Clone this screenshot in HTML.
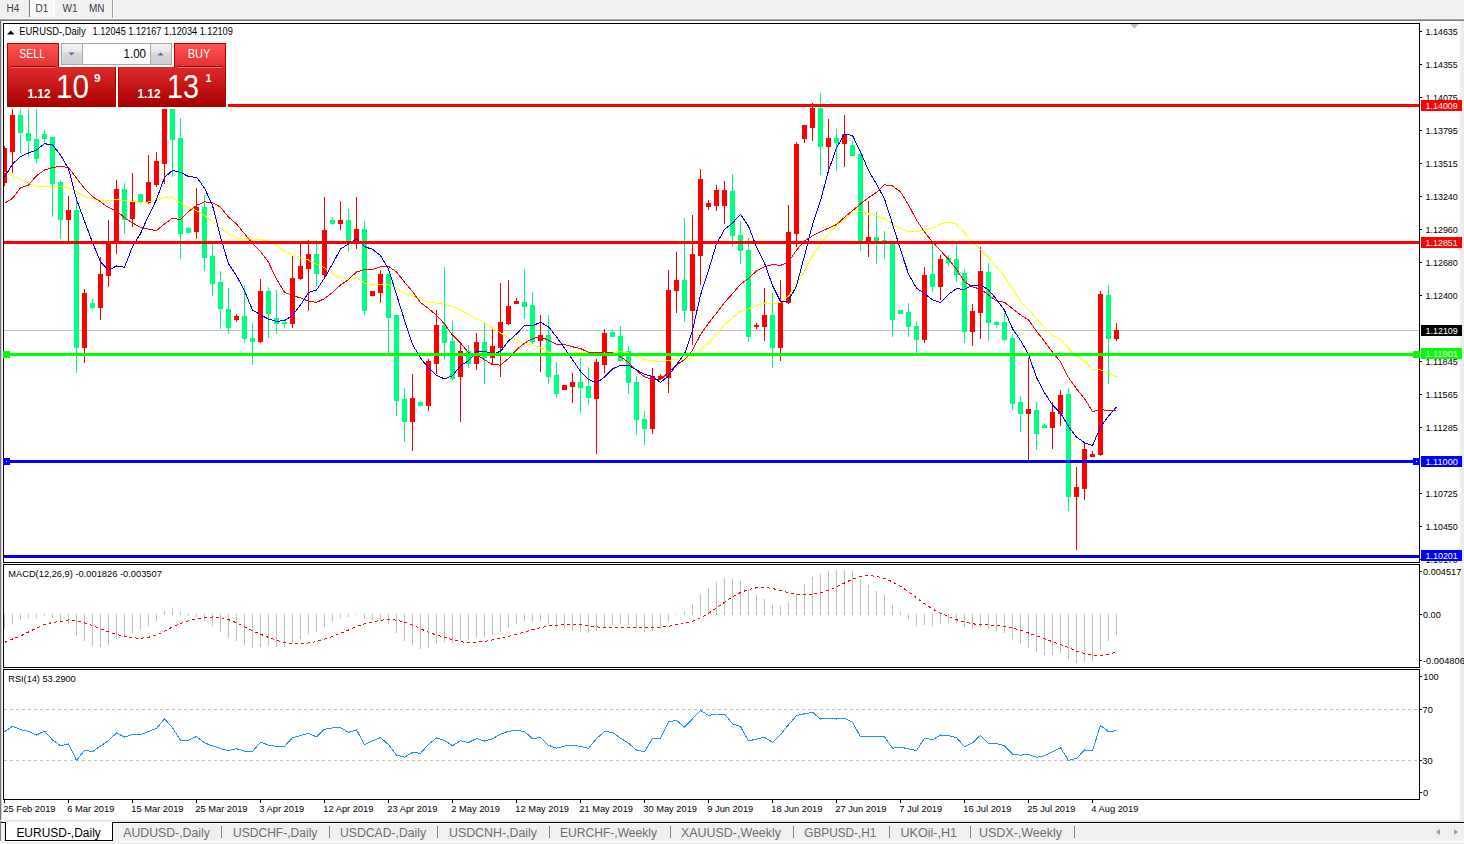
<!DOCTYPE html><html><head><meta charset="utf-8"><style>html,body{margin:0;padding:0;background:#fff;overflow:hidden}svg{display:block}text{font-family:"Liberation Sans",sans-serif}</style></head><body>
<svg width="1464" height="844" viewBox="0 0 1464 844">
<rect x="0" y="0" width="1464" height="18" fill="#f0f0f0"/>
<rect x="0" y="18" width="1464" height="1" fill="#fafafa"/>
<rect x="0" y="19" width="1464" height="1" fill="#a0a0a0"/>
<rect x="0" y="20" width="1464" height="1" fill="#808080"/>
<defs><pattern id="dth" width="2" height="2" patternUnits="userSpaceOnUse"><rect width="2" height="2" fill="#f0f0f0"/><rect width="1" height="1" fill="#fff"/><rect x="1" y="1" width="1" height="1" fill="#fff"/></pattern></defs><rect x="30" y="0" width="24" height="17" fill="url(#dth)"/>
<rect x="29" y="0" width="1" height="17" fill="#808080"/>
<rect x="54" y="0" width="1" height="17" fill="#ffffff"/>
<rect x="112" y="0" width="1" height="18" fill="#a0a0a0"/><rect x="113" y="0" width="1" height="18" fill="#ffffff"/>
<text x="6.5" y="11.5" font-size="10" fill="#404040">H4</text>
<text x="35.5" y="11.5" font-size="10" fill="#404040">D1</text>
<text x="62.5" y="11.5" font-size="10" fill="#404040">W1</text>
<text x="89" y="11.5" font-size="10" fill="#404040">MN</text>
<rect x="0" y="21" width="1" height="799" fill="#747474"/><rect x="1" y="21" width="1" height="799" fill="#d4d4d4"/>
<rect x="1459" y="21" width="5" height="799" fill="#f4f4f4"/><rect x="1461" y="21" width="3" height="799" fill="#ececec"/>
<g shape-rendering="crispEdges" fill="none" stroke="#000" stroke-width="1">
<path d="M3.5 562.5V23.5H1419.5V562.5Z"/>
<path d="M3.5 667.5V564.5H1419.5V667.5Z"/>
<path d="M3.5 799.5V669.5H1419.5V799.5Z"/>
</g>
<path d="M1130 24H1139L1134.5 28.5Z" fill="#c0c0c0"/>
<rect x="4" y="330" width="1415" height="1" fill="#c0c0c0" shape-rendering="crispEdges"/>
<defs><clipPath id="cm"><rect x="4" y="24" width="1415" height="538"/></clipPath><clipPath id="cp"><rect x="4" y="565" width="1415" height="102"/></clipPath><clipPath id="cr"><rect x="4" y="670" width="1415" height="129"/></clipPath></defs>
<g shape-rendering="crispEdges" clip-path="url(#cm)">
<rect x="4" y="146" width="1" height="40" fill="#ff0000"/><rect x="2" y="148" width="5" height="35" fill="#ff0000"/>
<rect x="12" y="104" width="1" height="69" fill="#ff0000"/><rect x="10" y="115" width="5" height="37" fill="#ff0000"/>
<rect x="20" y="104" width="1" height="49" fill="#00ff7f"/><rect x="18" y="115" width="5" height="18" fill="#00ff7f"/>
<rect x="28" y="104" width="1" height="53" fill="#00ff7f"/><rect x="26" y="133" width="5" height="8" fill="#00ff7f"/>
<rect x="36" y="104" width="1" height="60" fill="#00ff7f"/><rect x="34" y="139" width="5" height="20" fill="#00ff7f"/>
<rect x="44" y="130" width="1" height="12" fill="#00ff7f"/><rect x="42" y="134" width="5" height="5" fill="#00ff7f"/>
<rect x="52" y="137" width="1" height="80" fill="#00ff7f"/><rect x="50" y="137" width="5" height="47" fill="#00ff7f"/>
<rect x="60" y="180" width="1" height="59" fill="#00ff7f"/><rect x="58" y="182" width="5" height="38" fill="#00ff7f"/>
<rect x="68" y="196" width="1" height="47" fill="#ff0000"/><rect x="66" y="210" width="5" height="10" fill="#ff0000"/>
<rect x="76" y="201" width="1" height="172" fill="#00ff7f"/><rect x="74" y="210" width="5" height="138" fill="#00ff7f"/>
<rect x="84" y="289" width="1" height="74" fill="#ff0000"/><rect x="82" y="293" width="5" height="55" fill="#ff0000"/>
<rect x="92" y="299" width="1" height="10" fill="#00ff7f"/><rect x="90" y="303" width="5" height="5" fill="#00ff7f"/>
<rect x="100" y="257" width="1" height="63" fill="#ff0000"/><rect x="98" y="274" width="5" height="34" fill="#ff0000"/>
<rect x="108" y="220" width="1" height="67" fill="#ff0000"/><rect x="106" y="242" width="5" height="34" fill="#ff0000"/>
<rect x="116" y="180" width="1" height="74" fill="#ff0000"/><rect x="114" y="189" width="5" height="54" fill="#ff0000"/>
<rect x="124" y="183" width="1" height="51" fill="#00ff7f"/><rect x="122" y="189" width="5" height="31" fill="#00ff7f"/>
<rect x="132" y="173" width="1" height="54" fill="#ff0000"/><rect x="130" y="202" width="5" height="17" fill="#ff0000"/>
<rect x="140" y="194" width="1" height="10" fill="#00ff7f"/><rect x="138" y="194" width="5" height="9" fill="#00ff7f"/>
<rect x="148" y="155" width="1" height="49" fill="#ff0000"/><rect x="146" y="182" width="5" height="21" fill="#ff0000"/>
<rect x="156" y="152" width="1" height="35" fill="#ff0000"/><rect x="154" y="161" width="5" height="24" fill="#ff0000"/>
<rect x="164" y="50" width="1" height="134" fill="#ff0000"/><rect x="162" y="87" width="5" height="77" fill="#ff0000"/>
<rect x="172" y="47" width="1" height="130" fill="#00ff7f"/><rect x="170" y="87" width="5" height="53" fill="#00ff7f"/>
<rect x="180" y="118" width="1" height="141" fill="#00ff7f"/><rect x="178" y="138" width="5" height="96" fill="#00ff7f"/>
<rect x="188" y="227" width="1" height="6" fill="#00ff7f"/><rect x="186" y="228" width="5" height="5" fill="#00ff7f"/>
<rect x="196" y="188" width="1" height="51" fill="#ff0000"/><rect x="194" y="207" width="5" height="25" fill="#ff0000"/>
<rect x="204" y="195" width="1" height="76" fill="#00ff7f"/><rect x="202" y="207" width="5" height="51" fill="#00ff7f"/>
<rect x="212" y="244" width="1" height="52" fill="#00ff7f"/><rect x="210" y="256" width="5" height="28" fill="#00ff7f"/>
<rect x="220" y="271" width="1" height="58" fill="#00ff7f"/><rect x="218" y="282" width="5" height="27" fill="#00ff7f"/>
<rect x="228" y="288" width="1" height="46" fill="#00ff7f"/><rect x="226" y="309" width="5" height="19" fill="#00ff7f"/>
<rect x="236" y="314" width="1" height="8" fill="#ff0000"/><rect x="234" y="316" width="5" height="4" fill="#ff0000"/>
<rect x="244" y="285" width="1" height="58" fill="#00ff7f"/><rect x="242" y="316" width="5" height="23" fill="#00ff7f"/>
<rect x="252" y="323" width="1" height="42" fill="#00ff7f"/><rect x="250" y="338" width="5" height="4" fill="#00ff7f"/>
<rect x="260" y="279" width="1" height="64" fill="#ff0000"/><rect x="258" y="291" width="5" height="51" fill="#ff0000"/>
<rect x="268" y="287" width="1" height="51" fill="#00ff7f"/><rect x="266" y="291" width="5" height="23" fill="#00ff7f"/>
<rect x="276" y="290" width="1" height="44" fill="#00ff7f"/><rect x="274" y="318" width="5" height="6" fill="#00ff7f"/>
<rect x="284" y="321" width="1" height="7" fill="#00ff7f"/><rect x="282" y="322" width="5" height="2" fill="#00ff7f"/>
<rect x="292" y="256" width="1" height="72" fill="#ff0000"/><rect x="290" y="278" width="5" height="46" fill="#ff0000"/>
<rect x="300" y="243" width="1" height="37" fill="#ff0000"/><rect x="298" y="266" width="5" height="13" fill="#ff0000"/>
<rect x="308" y="240" width="1" height="71" fill="#ff0000"/><rect x="306" y="254" width="5" height="15" fill="#ff0000"/>
<rect x="316" y="240" width="1" height="46" fill="#00ff7f"/><rect x="314" y="254" width="5" height="20" fill="#00ff7f"/>
<rect x="324" y="197" width="1" height="81" fill="#ff0000"/><rect x="322" y="230" width="5" height="45" fill="#ff0000"/>
<rect x="332" y="217" width="1" height="8" fill="#00ff7f"/><rect x="330" y="220" width="5" height="4" fill="#00ff7f"/>
<rect x="340" y="201" width="1" height="29" fill="#ff0000"/><rect x="338" y="220" width="5" height="4" fill="#ff0000"/>
<rect x="348" y="209" width="1" height="43" fill="#00ff7f"/><rect x="346" y="220" width="5" height="23" fill="#00ff7f"/>
<rect x="356" y="197" width="1" height="52" fill="#ff0000"/><rect x="354" y="229" width="5" height="13" fill="#ff0000"/>
<rect x="364" y="221" width="1" height="94" fill="#00ff7f"/><rect x="362" y="229" width="5" height="82" fill="#00ff7f"/>
<rect x="372" y="291" width="1" height="5" fill="#ff0000"/><rect x="370" y="291" width="5" height="5" fill="#ff0000"/>
<rect x="380" y="270" width="1" height="33" fill="#ff0000"/><rect x="378" y="274" width="5" height="19" fill="#ff0000"/>
<rect x="388" y="274" width="1" height="80" fill="#00ff7f"/><rect x="386" y="274" width="5" height="44" fill="#00ff7f"/>
<rect x="396" y="315" width="1" height="101" fill="#00ff7f"/><rect x="394" y="315" width="5" height="86" fill="#00ff7f"/>
<rect x="404" y="388" width="1" height="54" fill="#00ff7f"/><rect x="402" y="399" width="5" height="23" fill="#00ff7f"/>
<rect x="412" y="374" width="1" height="77" fill="#ff0000"/><rect x="410" y="398" width="5" height="24" fill="#ff0000"/>
<rect x="420" y="401" width="1" height="5" fill="#00ff7f"/><rect x="418" y="402" width="5" height="4" fill="#00ff7f"/>
<rect x="428" y="359" width="1" height="52" fill="#ff0000"/><rect x="426" y="361" width="5" height="45" fill="#ff0000"/>
<rect x="436" y="310" width="1" height="64" fill="#ff0000"/><rect x="434" y="325" width="5" height="39" fill="#ff0000"/>
<rect x="444" y="267" width="1" height="93" fill="#00ff7f"/><rect x="442" y="325" width="5" height="18" fill="#00ff7f"/>
<rect x="452" y="321" width="1" height="59" fill="#00ff7f"/><rect x="450" y="341" width="5" height="38" fill="#00ff7f"/>
<rect x="460" y="343" width="1" height="79" fill="#ff0000"/><rect x="458" y="351" width="5" height="26" fill="#ff0000"/>
<rect x="468" y="345" width="1" height="23" fill="#00ff7f"/><rect x="466" y="351" width="5" height="13" fill="#00ff7f"/>
<rect x="476" y="333" width="1" height="37" fill="#ff0000"/><rect x="474" y="342" width="5" height="22" fill="#ff0000"/>
<rect x="484" y="323" width="1" height="61" fill="#00ff7f"/><rect x="482" y="342" width="5" height="16" fill="#00ff7f"/>
<rect x="492" y="328" width="1" height="36" fill="#ff0000"/><rect x="490" y="346" width="5" height="12" fill="#ff0000"/>
<rect x="500" y="283" width="1" height="94" fill="#ff0000"/><rect x="498" y="322" width="5" height="26" fill="#ff0000"/>
<rect x="508" y="280" width="1" height="45" fill="#ff0000"/><rect x="506" y="306" width="5" height="18" fill="#ff0000"/>
<rect x="516" y="298" width="1" height="6" fill="#ff0000"/><rect x="514" y="301" width="5" height="3" fill="#ff0000"/>
<rect x="524" y="269" width="1" height="50" fill="#00ff7f"/><rect x="522" y="302" width="5" height="5" fill="#00ff7f"/>
<rect x="532" y="292" width="1" height="52" fill="#00ff7f"/><rect x="530" y="305" width="5" height="37" fill="#00ff7f"/>
<rect x="540" y="315" width="1" height="57" fill="#ff0000"/><rect x="538" y="335" width="5" height="6" fill="#ff0000"/>
<rect x="548" y="315" width="1" height="69" fill="#00ff7f"/><rect x="546" y="335" width="5" height="42" fill="#00ff7f"/>
<rect x="556" y="362" width="1" height="36" fill="#00ff7f"/><rect x="554" y="375" width="5" height="19" fill="#00ff7f"/>
<rect x="564" y="385" width="1" height="5" fill="#ff0000"/><rect x="562" y="385" width="5" height="5" fill="#ff0000"/>
<rect x="572" y="373" width="1" height="30" fill="#ff0000"/><rect x="570" y="382" width="5" height="5" fill="#ff0000"/>
<rect x="580" y="358" width="1" height="55" fill="#00ff7f"/><rect x="578" y="382" width="5" height="6" fill="#00ff7f"/>
<rect x="588" y="367" width="1" height="38" fill="#00ff7f"/><rect x="586" y="386" width="5" height="12" fill="#00ff7f"/>
<rect x="596" y="359" width="1" height="95" fill="#ff0000"/><rect x="594" y="362" width="5" height="37" fill="#ff0000"/>
<rect x="604" y="329" width="1" height="44" fill="#ff0000"/><rect x="602" y="333" width="5" height="32" fill="#ff0000"/>
<rect x="612" y="330" width="1" height="7" fill="#00ff7f"/><rect x="610" y="332" width="5" height="5" fill="#00ff7f"/>
<rect x="620" y="326" width="1" height="35" fill="#00ff7f"/><rect x="618" y="336" width="5" height="25" fill="#00ff7f"/>
<rect x="628" y="346" width="1" height="48" fill="#00ff7f"/><rect x="626" y="351" width="5" height="32" fill="#00ff7f"/>
<rect x="636" y="376" width="1" height="59" fill="#00ff7f"/><rect x="634" y="382" width="5" height="38" fill="#00ff7f"/>
<rect x="644" y="411" width="1" height="34" fill="#00ff7f"/><rect x="642" y="419" width="5" height="10" fill="#00ff7f"/>
<rect x="652" y="368" width="1" height="66" fill="#ff0000"/><rect x="650" y="376" width="5" height="53" fill="#ff0000"/>
<rect x="660" y="374" width="1" height="6" fill="#ff0000"/><rect x="658" y="376" width="5" height="3" fill="#ff0000"/>
<rect x="668" y="270" width="1" height="123" fill="#ff0000"/><rect x="666" y="290" width="5" height="88" fill="#ff0000"/>
<rect x="676" y="252" width="1" height="61" fill="#ff0000"/><rect x="674" y="280" width="5" height="11" fill="#ff0000"/>
<rect x="684" y="218" width="1" height="104" fill="#00ff7f"/><rect x="682" y="280" width="5" height="31" fill="#00ff7f"/>
<rect x="692" y="215" width="1" height="130" fill="#ff0000"/><rect x="690" y="254" width="5" height="57" fill="#ff0000"/>
<rect x="700" y="169" width="1" height="116" fill="#ff0000"/><rect x="698" y="179" width="5" height="77" fill="#ff0000"/>
<rect x="708" y="200" width="1" height="10" fill="#ff0000"/><rect x="706" y="203" width="5" height="4" fill="#ff0000"/>
<rect x="716" y="185" width="1" height="26" fill="#ff0000"/><rect x="714" y="190" width="5" height="16" fill="#ff0000"/>
<rect x="724" y="181" width="1" height="43" fill="#ff0000"/><rect x="722" y="190" width="5" height="16" fill="#ff0000"/>
<rect x="732" y="174" width="1" height="73" fill="#00ff7f"/><rect x="730" y="191" width="5" height="45" fill="#00ff7f"/>
<rect x="740" y="221" width="1" height="43" fill="#00ff7f"/><rect x="738" y="235" width="5" height="16" fill="#00ff7f"/>
<rect x="748" y="238" width="1" height="104" fill="#00ff7f"/><rect x="746" y="250" width="5" height="87" fill="#00ff7f"/>
<rect x="756" y="323" width="1" height="6" fill="#ff0000"/><rect x="754" y="325" width="5" height="2" fill="#ff0000"/>
<rect x="764" y="288" width="1" height="53" fill="#ff0000"/><rect x="762" y="315" width="5" height="12" fill="#ff0000"/>
<rect x="772" y="293" width="1" height="75" fill="#00ff7f"/><rect x="770" y="315" width="5" height="33" fill="#00ff7f"/>
<rect x="780" y="280" width="1" height="81" fill="#ff0000"/><rect x="778" y="302" width="5" height="46" fill="#ff0000"/>
<rect x="788" y="205" width="1" height="99" fill="#ff0000"/><rect x="786" y="232" width="5" height="71" fill="#ff0000"/>
<rect x="796" y="142" width="1" height="105" fill="#ff0000"/><rect x="794" y="144" width="5" height="90" fill="#ff0000"/>
<rect x="804" y="125" width="1" height="18" fill="#ff0000"/><rect x="802" y="125" width="5" height="14" fill="#ff0000"/>
<rect x="812" y="103" width="1" height="38" fill="#ff0000"/><rect x="810" y="108" width="5" height="20" fill="#ff0000"/>
<rect x="820" y="93" width="1" height="82" fill="#00ff7f"/><rect x="818" y="108" width="5" height="39" fill="#00ff7f"/>
<rect x="828" y="119" width="1" height="50" fill="#ff0000"/><rect x="826" y="138" width="5" height="9" fill="#ff0000"/>
<rect x="836" y="129" width="1" height="42" fill="#00ff7f"/><rect x="834" y="138" width="5" height="5" fill="#00ff7f"/>
<rect x="844" y="115" width="1" height="52" fill="#ff0000"/><rect x="842" y="134" width="5" height="10" fill="#ff0000"/>
<rect x="852" y="141" width="1" height="15" fill="#00ff7f"/><rect x="850" y="145" width="5" height="11" fill="#00ff7f"/>
<rect x="860" y="150" width="1" height="101" fill="#00ff7f"/><rect x="858" y="154" width="5" height="88" fill="#00ff7f"/>
<rect x="868" y="201" width="1" height="56" fill="#ff0000"/><rect x="866" y="237" width="5" height="6" fill="#ff0000"/>
<rect x="876" y="212" width="1" height="52" fill="#00ff7f"/><rect x="874" y="237" width="5" height="6" fill="#00ff7f"/>
<rect x="884" y="231" width="1" height="28" fill="#00ff7f"/><rect x="882" y="240" width="5" height="2" fill="#00ff7f"/>
<rect x="892" y="242" width="1" height="95" fill="#00ff7f"/><rect x="890" y="242" width="5" height="78" fill="#00ff7f"/>
<rect x="900" y="310" width="1" height="4" fill="#00ff7f"/><rect x="898" y="310" width="5" height="4" fill="#00ff7f"/>
<rect x="908" y="303" width="1" height="34" fill="#00ff7f"/><rect x="906" y="312" width="5" height="15" fill="#00ff7f"/>
<rect x="916" y="321" width="1" height="32" fill="#00ff7f"/><rect x="914" y="326" width="5" height="14" fill="#00ff7f"/>
<rect x="924" y="267" width="1" height="76" fill="#ff0000"/><rect x="922" y="275" width="5" height="65" fill="#ff0000"/>
<rect x="932" y="244" width="1" height="48" fill="#00ff7f"/><rect x="930" y="274" width="5" height="13" fill="#00ff7f"/>
<rect x="940" y="255" width="1" height="45" fill="#ff0000"/><rect x="938" y="259" width="5" height="28" fill="#ff0000"/>
<rect x="948" y="255" width="1" height="11" fill="#00ff7f"/><rect x="946" y="258" width="5" height="5" fill="#00ff7f"/>
<rect x="956" y="244" width="1" height="38" fill="#00ff7f"/><rect x="954" y="259" width="5" height="16" fill="#00ff7f"/>
<rect x="964" y="269" width="1" height="74" fill="#00ff7f"/><rect x="962" y="273" width="5" height="59" fill="#00ff7f"/>
<rect x="972" y="304" width="1" height="42" fill="#ff0000"/><rect x="970" y="311" width="5" height="21" fill="#ff0000"/>
<rect x="980" y="247" width="1" height="92" fill="#ff0000"/><rect x="978" y="271" width="5" height="42" fill="#ff0000"/>
<rect x="988" y="263" width="1" height="78" fill="#00ff7f"/><rect x="986" y="272" width="5" height="51" fill="#00ff7f"/>
<rect x="996" y="321" width="1" height="7" fill="#00ff7f"/><rect x="994" y="322" width="5" height="3" fill="#00ff7f"/>
<rect x="1004" y="313" width="1" height="28" fill="#00ff7f"/><rect x="1002" y="322" width="5" height="18" fill="#00ff7f"/>
<rect x="1012" y="334" width="1" height="76" fill="#00ff7f"/><rect x="1010" y="338" width="5" height="66" fill="#00ff7f"/>
<rect x="1020" y="396" width="1" height="36" fill="#00ff7f"/><rect x="1018" y="402" width="5" height="12" fill="#00ff7f"/>
<rect x="1028" y="358" width="1" height="103" fill="#ff0000"/><rect x="1026" y="409" width="5" height="5" fill="#ff0000"/>
<rect x="1036" y="402" width="1" height="48" fill="#00ff7f"/><rect x="1034" y="410" width="5" height="24" fill="#00ff7f"/>
<rect x="1044" y="423" width="1" height="5" fill="#00ff7f"/><rect x="1042" y="425" width="5" height="3" fill="#00ff7f"/>
<rect x="1052" y="402" width="1" height="47" fill="#ff0000"/><rect x="1050" y="412" width="5" height="16" fill="#ff0000"/>
<rect x="1060" y="390" width="1" height="36" fill="#ff0000"/><rect x="1058" y="395" width="5" height="19" fill="#ff0000"/>
<rect x="1068" y="388" width="1" height="123" fill="#00ff7f"/><rect x="1066" y="394" width="5" height="103" fill="#00ff7f"/>
<rect x="1076" y="467" width="1" height="83" fill="#ff0000"/><rect x="1074" y="487" width="5" height="10" fill="#ff0000"/>
<rect x="1084" y="443" width="1" height="57" fill="#ff0000"/><rect x="1082" y="449" width="5" height="40" fill="#ff0000"/>
<rect x="1092" y="451" width="1" height="6" fill="#ff0000"/><rect x="1090" y="454" width="5" height="3" fill="#ff0000"/>
<rect x="1100" y="291" width="1" height="165" fill="#ff0000"/><rect x="1098" y="294" width="5" height="161" fill="#ff0000"/>
<rect x="1108" y="285" width="1" height="99" fill="#00ff7f"/><rect x="1106" y="295" width="5" height="44" fill="#00ff7f"/>
<rect x="1116" y="323" width="1" height="18" fill="#ff0000"/><rect x="1114" y="330" width="5" height="9" fill="#ff0000"/>
</g>
<g clip-path="url(#cm)">
<polyline points="4.5,172.5 12.5,175.8 20.5,179.7 28.5,183.3 36.5,186.3 44.5,186.3 52.5,186.3 60.5,186.7 68.5,187.5 76.5,191.7 84.5,196.3 92.5,198.7 100.5,200.8 108.5,200.8 116.5,199.7 124.5,200.5 132.5,201.7 140.5,202.2 148.5,202.0 156.5,200.0 164.5,197.5 172.5,197.1 180.5,202.7 188.5,207.5 196.5,210.7 204.5,215.4 212.5,222.3 220.5,228.2 228.5,233.4 236.5,238.4 244.5,238.0 252.5,240.3 260.5,239.5 268.5,241.4 276.5,245.2 284.5,251.6 292.5,254.4 300.5,257.5 308.5,260.0 316.5,264.3 324.5,267.6 332.5,274.0 340.5,277.9 348.5,278.3 356.5,278.2 364.5,283.1 372.5,284.7 380.5,284.3 388.5,284.7 396.5,288.2 404.5,293.2 412.5,296.0 420.5,299.1 428.5,302.4 436.5,303.0 444.5,303.9 452.5,306.5 460.5,310.0 468.5,314.6 476.5,318.8 484.5,322.8 492.5,328.3 500.5,333.0 508.5,337.1 516.5,340.0 524.5,343.6 532.5,345.1 540.5,347.2 548.5,352.0 556.5,355.7 564.5,355.0 572.5,353.1 580.5,352.6 588.5,352.2 596.5,352.2 604.5,352.6 612.5,352.3 620.5,351.5 628.5,353.0 636.5,355.6 644.5,359.7 652.5,360.6 660.5,362.0 668.5,360.5 676.5,359.3 684.5,359.7 692.5,357.2 700.5,349.5 708.5,343.2 716.5,334.4 724.5,324.7 732.5,317.6 740.5,311.3 748.5,308.9 756.5,305.4 764.5,303.2 772.5,303.9 780.5,302.2 788.5,296.1 796.5,284.8 804.5,270.8 812.5,255.6 820.5,244.6 828.5,233.3 836.5,226.2 844.5,219.3 852.5,211.9 860.5,211.3 868.5,214.0 876.5,215.9 884.5,218.3 892.5,224.5 900.5,228.2 908.5,231.8 916.5,232.0 924.5,229.6 932.5,228.2 940.5,224.0 948.5,222.1 956.5,224.1 964.5,233.0 972.5,241.9 980.5,249.6 988.5,258.0 996.5,266.9 1004.5,276.2 1012.5,289.0 1020.5,301.3 1028.5,309.3 1036.5,318.7 1044.5,327.5 1052.5,335.6 1060.5,339.2 1068.5,348.0 1076.5,355.6 1084.5,360.9 1092.5,369.4 1100.5,369.8 1108.5,373.5 1116.5,376.8" fill="none" stroke="#ffff00" stroke-width="1" shape-rendering="crispEdges" />
<polyline points="4.5,203.3 12.5,198.3 20.5,188.0 28.5,185.0 36.5,175.8 44.5,170.0 52.5,167.5 60.5,166.3 68.5,167.5 76.5,178.3 84.5,188.3 92.5,196.7 100.5,201.7 108.5,207.6 116.5,210.5 124.5,217.9 132.5,222.9 140.5,227.4 148.5,229.1 156.5,230.7 164.5,223.9 172.5,218.1 180.5,219.8 188.5,211.6 196.5,205.4 204.5,201.9 212.5,202.5 220.5,207.2 228.5,217.1 236.5,224.0 244.5,233.7 252.5,243.6 260.5,251.4 268.5,262.3 276.5,279.1 284.5,292.3 292.5,295.5 300.5,297.9 308.5,301.3 316.5,302.4 324.5,298.6 332.5,292.6 340.5,284.9 348.5,279.6 356.5,271.9 364.5,269.6 372.5,269.6 380.5,266.9 388.5,266.4 396.5,271.9 404.5,282.1 412.5,291.6 420.5,302.4 428.5,308.6 436.5,315.4 444.5,323.9 452.5,335.2 460.5,343.0 468.5,352.6 476.5,354.9 484.5,359.6 492.5,364.7 500.5,365.1 508.5,358.4 516.5,349.8 524.5,343.2 532.5,338.6 540.5,336.8 548.5,340.4 556.5,344.1 564.5,344.6 572.5,346.8 580.5,348.5 588.5,352.4 596.5,352.8 604.5,351.9 612.5,352.9 620.5,356.7 628.5,362.5 636.5,370.6 644.5,376.8 652.5,379.7 660.5,379.7 668.5,372.4 676.5,364.9 684.5,359.7 692.5,350.2 700.5,334.6 708.5,323.3 716.5,313.1 724.5,302.6 732.5,293.7 740.5,284.3 748.5,278.4 756.5,271.0 764.5,266.6 772.5,264.6 780.5,265.4 788.5,262.0 796.5,250.1 804.5,240.9 812.5,235.9 820.5,231.8 828.5,228.1 836.5,224.6 844.5,217.4 852.5,210.6 860.5,203.9 868.5,197.6 876.5,192.4 884.5,184.8 892.5,186.0 900.5,191.8 908.5,204.8 916.5,220.1 924.5,232.0 932.5,242.0 940.5,250.6 948.5,259.2 956.5,269.2 964.5,281.8 972.5,286.8 980.5,289.2 988.5,294.9 996.5,300.9 1004.5,302.3 1012.5,308.7 1020.5,314.9 1028.5,319.9 1036.5,331.2 1044.5,341.3 1052.5,352.2 1060.5,361.7 1068.5,377.6 1076.5,388.7 1084.5,398.6 1092.5,411.6 1100.5,409.6 1108.5,410.6 1116.5,410.0" fill="none" stroke="#ff0000" stroke-width="1" shape-rendering="crispEdges" />
<polyline points="4.5,177.5 12.5,164.0 20.5,156.7 28.5,153.0 36.5,150.0 44.5,143.7 52.5,144.9 60.5,155.0 68.5,168.6 76.5,199.3 84.5,221.1 92.5,242.4 100.5,261.9 108.5,270.3 116.5,266.0 124.5,267.3 132.5,246.6 140.5,233.6 148.5,215.7 156.5,199.6 164.5,177.4 172.5,170.3 180.5,172.3 188.5,176.6 196.5,177.3 204.5,188.0 212.5,205.4 220.5,237.0 228.5,263.9 236.5,275.7 244.5,290.9 252.5,310.0 260.5,314.9 268.5,319.1 276.5,321.3 284.5,320.7 292.5,315.3 300.5,305.0 308.5,292.6 316.5,290.0 324.5,278.1 332.5,263.9 340.5,249.1 348.5,244.0 356.5,238.7 364.5,246.7 372.5,249.3 380.5,255.6 388.5,269.0 396.5,294.7 404.5,320.3 412.5,344.4 420.5,358.0 428.5,368.0 436.5,375.3 444.5,378.9 452.5,375.7 460.5,365.7 468.5,360.7 476.5,351.7 484.5,351.1 492.5,354.1 500.5,351.3 508.5,341.0 516.5,333.9 524.5,325.7 532.5,325.6 540.5,322.4 548.5,326.7 556.5,336.9 564.5,348.1 572.5,359.7 580.5,371.3 588.5,379.3 596.5,383.1 604.5,377.0 612.5,368.9 620.5,365.3 628.5,365.3 636.5,369.9 644.5,374.3 652.5,376.3 660.5,382.4 668.5,375.9 676.5,364.4 684.5,354.1 692.5,330.6 700.5,295.0 708.5,270.3 716.5,243.7 724.5,229.4 732.5,223.0 740.5,214.4 748.5,226.1 756.5,247.0 764.5,263.0 772.5,285.4 780.5,301.4 788.5,301.0 796.5,285.9 804.5,255.7 812.5,224.7 820.5,200.6 828.5,170.7 836.5,147.9 844.5,133.9 852.5,135.4 860.5,152.0 868.5,170.4 876.5,184.1 884.5,198.9 892.5,224.1 900.5,249.7 908.5,274.1 916.5,288.1 924.5,293.6 932.5,299.9 940.5,302.4 948.5,294.3 956.5,288.7 964.5,289.4 972.5,285.4 980.5,284.9 988.5,290.0 996.5,299.3 1004.5,310.3 1012.5,328.7 1020.5,340.4 1028.5,354.4 1036.5,377.6 1044.5,392.6 1052.5,405.1 1060.5,413.1 1068.5,426.4 1076.5,437.0 1084.5,442.7 1092.5,445.7 1100.5,426.7 1108.5,416.1 1116.5,406.9" fill="none" stroke="#0000ff" stroke-width="1" shape-rendering="crispEdges" />
</g>
<rect x="4" y="104" width="1415" height="3" fill="#ff0000" shape-rendering="crispEdges"/>
<rect x="4" y="241" width="1415" height="3" fill="#ff0000" shape-rendering="crispEdges"/>
<rect x="4" y="353" width="1415" height="3" fill="#00ff00" shape-rendering="crispEdges"/>
<rect x="4" y="460" width="1415" height="3" fill="#0000ff" shape-rendering="crispEdges"/>
<rect x="4" y="555" width="1415" height="3" fill="#0000ff" shape-rendering="crispEdges"/>
<rect x="3" y="351" width="7" height="7" fill="#00ff00" shape-rendering="crispEdges"/><rect x="6" y="354" width="1" height="1" fill="#fff"/>
<rect x="1413" y="351" width="7" height="7" fill="#00ff00" shape-rendering="crispEdges"/><rect x="1416" y="354" width="1" height="1" fill="#fff"/>
<rect x="3" y="458" width="7" height="7" fill="#0000ff" shape-rendering="crispEdges"/><rect x="6" y="461" width="1" height="1" fill="#fff"/>
<rect x="1413" y="458" width="7" height="7" fill="#0000ff" shape-rendering="crispEdges"/><rect x="1416" y="461" width="1" height="1" fill="#fff"/>
<g shape-rendering="crispEdges" fill="#000">
<rect x="1419" y="31" width="3" height="1"/>
<rect x="1419" y="64" width="3" height="1"/>
<rect x="1419" y="97" width="3" height="1"/>
<rect x="1419" y="130" width="3" height="1"/>
<rect x="1419" y="163" width="3" height="1"/>
<rect x="1419" y="196" width="3" height="1"/>
<rect x="1419" y="229" width="3" height="1"/>
<rect x="1419" y="262" width="3" height="1"/>
<rect x="1419" y="295" width="3" height="1"/>
<rect x="1419" y="361" width="3" height="1"/>
<rect x="1419" y="394" width="3" height="1"/>
<rect x="1419" y="427" width="3" height="1"/>
<rect x="1419" y="493" width="3" height="1"/>
<rect x="1419" y="526" width="3" height="1"/>
<rect x="1419" y="559" width="3" height="1"/>
</g>
<text x="1425.5" y="35" font-size="9.3" fill="#000" stroke="#000" stroke-width="0" transform="matrix(1 0 0 1.07 0 -2.45)" textLength="32.3" lengthAdjust="spacingAndGlyphs" >1.14635</text>
<text x="1425.5" y="68" font-size="9.3" fill="#000" stroke="#000" stroke-width="0" transform="matrix(1 0 0 1.07 0 -4.76)" textLength="32.3" lengthAdjust="spacingAndGlyphs" >1.14355</text>
<text x="1425.5" y="101" font-size="9.3" fill="#000" stroke="#000" stroke-width="0" transform="matrix(1 0 0 1.07 0 -7.07)" textLength="32.3" lengthAdjust="spacingAndGlyphs" >1.14075</text>
<text x="1425.5" y="134" font-size="9.3" fill="#000" stroke="#000" stroke-width="0" transform="matrix(1 0 0 1.07 0 -9.38)" textLength="32.3" lengthAdjust="spacingAndGlyphs" >1.13795</text>
<text x="1425.5" y="167" font-size="9.3" fill="#000" stroke="#000" stroke-width="0" transform="matrix(1 0 0 1.07 0 -11.69)" textLength="32.3" lengthAdjust="spacingAndGlyphs" >1.13515</text>
<text x="1425.5" y="200" font-size="9.3" fill="#000" stroke="#000" stroke-width="0" transform="matrix(1 0 0 1.07 0 -14.00)" textLength="32.3" lengthAdjust="spacingAndGlyphs" >1.13240</text>
<text x="1425.5" y="233" font-size="9.3" fill="#000" stroke="#000" stroke-width="0" transform="matrix(1 0 0 1.07 0 -16.31)" textLength="32.3" lengthAdjust="spacingAndGlyphs" >1.12960</text>
<text x="1425.5" y="266" font-size="9.3" fill="#000" stroke="#000" stroke-width="0" transform="matrix(1 0 0 1.07 0 -18.62)" textLength="32.3" lengthAdjust="spacingAndGlyphs" >1.12680</text>
<text x="1425.5" y="299" font-size="9.3" fill="#000" stroke="#000" stroke-width="0" transform="matrix(1 0 0 1.07 0 -20.93)" textLength="32.3" lengthAdjust="spacingAndGlyphs" >1.12400</text>
<text x="1425.5" y="365" font-size="9.3" fill="#000" stroke="#000" stroke-width="0" transform="matrix(1 0 0 1.07 0 -25.55)" textLength="32.3" lengthAdjust="spacingAndGlyphs" >1.11845</text>
<text x="1425.5" y="398" font-size="9.3" fill="#000" stroke="#000" stroke-width="0" transform="matrix(1 0 0 1.07 0 -27.86)" textLength="32.3" lengthAdjust="spacingAndGlyphs" >1.11565</text>
<text x="1425.5" y="431" font-size="9.3" fill="#000" stroke="#000" stroke-width="0" transform="matrix(1 0 0 1.07 0 -30.17)" textLength="32.3" lengthAdjust="spacingAndGlyphs" >1.11285</text>
<text x="1425.5" y="497" font-size="9.3" fill="#000" stroke="#000" stroke-width="0" transform="matrix(1 0 0 1.07 0 -34.79)" textLength="32.3" lengthAdjust="spacingAndGlyphs" >1.10725</text>
<text x="1425.5" y="530" font-size="9.3" fill="#000" stroke="#000" stroke-width="0" transform="matrix(1 0 0 1.07 0 -37.10)" textLength="32.3" lengthAdjust="spacingAndGlyphs" >1.10450</text>
<text x="1425.5" y="563" font-size="9.3" fill="#000" stroke="#000" stroke-width="0" transform="matrix(1 0 0 1.07 0 -39.41)" textLength="32.3" lengthAdjust="spacingAndGlyphs" >1.10170</text>
<rect x="1421" y="100" width="41" height="11" fill="#ff0000" shape-rendering="crispEdges"/><text x="1425.5" y="109" font-size="9.3" fill="#fff" stroke="#fff" stroke-width="0" transform="matrix(1 0 0 1.07 0 -7.63)" textLength="32.3" lengthAdjust="spacingAndGlyphs" >1.14009</text>
<rect x="1421" y="237" width="41" height="11" fill="#ff0000" shape-rendering="crispEdges"/><text x="1425.5" y="246" font-size="9.3" fill="#fff" stroke="#fff" stroke-width="0" transform="matrix(1 0 0 1.07 0 -17.22)" textLength="32.3" lengthAdjust="spacingAndGlyphs" >1.12851</text>
<rect x="1421" y="325" width="41" height="11" fill="#000000" shape-rendering="crispEdges"/><text x="1425.5" y="334" font-size="9.3" fill="#fff" stroke="#fff" stroke-width="0" transform="matrix(1 0 0 1.07 0 -23.38)" textLength="32.3" lengthAdjust="spacingAndGlyphs" >1.12109</text>
<rect x="1421" y="348" width="41" height="11" fill="#00ff00" shape-rendering="crispEdges"/><text x="1425.5" y="357" font-size="9.3" fill="#fff" stroke="#fff" stroke-width="0" transform="matrix(1 0 0 1.07 0 -24.99)" textLength="32.3" lengthAdjust="spacingAndGlyphs" >1.11901</text>
<rect x="1421" y="456" width="41" height="11" fill="#0000ff" shape-rendering="crispEdges"/><text x="1425.5" y="465" font-size="9.3" fill="#fff" stroke="#fff" stroke-width="0" transform="matrix(1 0 0 1.07 0 -32.55)" textLength="32.3" lengthAdjust="spacingAndGlyphs" >1.11000</text>
<rect x="1421" y="550" width="41" height="11" fill="#0000ff" shape-rendering="crispEdges"/><text x="1425.5" y="559" font-size="9.3" fill="#fff" stroke="#fff" stroke-width="0" transform="matrix(1 0 0 1.07 0 -39.13)" textLength="32.3" lengthAdjust="spacingAndGlyphs" >1.10201</text>
<path d="M7 34.5L10.75 30.5L14.5 34.5Z" fill="#000"/>
<text x="19.3" y="35" font-size="9.5" fill="#000" stroke="#000" stroke-width="0" transform="matrix(1 0 0 1.07 0 -2.45)" textLength="66.3" lengthAdjust="spacingAndGlyphs" >EURUSD-,Daily</text>
<text x="92.6" y="35" font-size="9.5" fill="#000" stroke="#000" stroke-width="0" transform="matrix(1 0 0 1.07 0 -2.45)" textLength="140.2" lengthAdjust="spacingAndGlyphs" >1.12045 1.12167 1.12034 1.12109</text>
<defs><linearGradient id="gb" x1="0" y1="0" x2="0" y2="1"><stop offset="0" stop-color="#ff5252"/><stop offset="1" stop-color="#e53030"/></linearGradient><linearGradient id="gp" x1="0" y1="0" x2="0" y2="1"><stop offset="0" stop-color="#e02a2a"/><stop offset="1" stop-color="#a80000"/></linearGradient><linearGradient id="gs" x1="0" y1="0" x2="0" y2="1"><stop offset="0" stop-color="#f4f4f4"/><stop offset=".4" stop-color="#e6e6e6"/><stop offset=".45" stop-color="#d8d8d8"/><stop offset="1" stop-color="#cfcfcf"/></linearGradient></defs>
<rect x="4" y="41" width="224" height="68" fill="#fff"/>
<g shape-rendering="crispEdges">
<rect x="7" y="43" width="52" height="64" fill="#b00000"/><rect x="8" y="44" width="50" height="23" fill="url(#gb)"/>
<rect x="174" y="43" width="52" height="64" fill="#b00000"/><rect x="175" y="44" width="50" height="23" fill="url(#gb)"/>
<rect x="7" y="67" width="109" height="40" fill="#b00000"/><rect x="8" y="67" width="107" height="39" fill="url(#gp)"/>
<rect x="118" y="67" width="108" height="40" fill="#b00000"/><rect x="119" y="67" width="106" height="39" fill="url(#gp)"/>
<rect x="11" y="66" width="44" height="1" fill="#800000"/><rect x="11" y="67" width="44" height="1" fill="#ff7070"/>
<rect x="178" y="66" width="44" height="1" fill="#800000"/><rect x="178" y="67" width="44" height="1" fill="#ff7070"/>
<rect x="61" y="43" width="111" height="22" fill="#a8a8a8"/><rect x="62" y="44" width="109" height="20" fill="#fff"/>
<rect x="62" y="44" width="20" height="20" fill="url(#gs)"/><rect x="82" y="44" width="1" height="20" fill="#a8a8a8"/>
<rect x="151" y="44" width="20" height="20" fill="url(#gs)"/><rect x="150" y="44" width="1" height="20" fill="#a8a8a8"/>
</g>
<path d="M68.5 52.5H74.5L71.5 55.5Z" fill="#5060c0"/><path d="M157.5 55.5H163.5L160.5 52.5Z" fill="#5060c0"/>
<text x="19.3" y="58.4" font-size="12.3" fill="#fff" textLength="25.7" lengthAdjust="spacingAndGlyphs" >SELL</text><text x="187.7" y="58.4" font-size="12.3" fill="#fff" textLength="22.7" lengthAdjust="spacingAndGlyphs" >BUY</text>
<text x="123.5" y="58.3" font-size="12.3" fill="#000" textLength="22.5" lengthAdjust="spacingAndGlyphs" >1.00</text>
<text x="27.4" y="98" font-size="12.3" fill="#fff" textLength="23.2" lengthAdjust="spacingAndGlyphs" font-weight="bold">1.12</text><text x="56" y="98" font-size="33.5" fill="#fff" textLength="33" lengthAdjust="spacingAndGlyphs" >10</text><text x="94.1" y="82" font-size="11.5" fill="#fff" textLength="6.6" lengthAdjust="spacingAndGlyphs" font-weight="bold">9</text>
<text x="137.5" y="98" font-size="12.3" fill="#fff" textLength="23" lengthAdjust="spacingAndGlyphs" font-weight="bold">1.12</text><text x="167" y="98" font-size="33.5" fill="#fff" textLength="32" lengthAdjust="spacingAndGlyphs" >13</text><text x="205.6" y="82" font-size="11.5" fill="#fff" textLength="6" lengthAdjust="spacingAndGlyphs" font-weight="bold">1</text>
<g shape-rendering="crispEdges" fill="#c0c0c0" clip-path="url(#cp)">
<rect x="4" y="614" width="1" height="15"/>
<rect x="12" y="614" width="1" height="10"/>
<rect x="20" y="614" width="1" height="6"/>
<rect x="28" y="614" width="1" height="4"/>
<rect x="36" y="614" width="1" height="4"/>
<rect x="44" y="614" width="1" height="2"/>
<rect x="52" y="614" width="1" height="4"/>
<rect x="60" y="614" width="1" height="8"/>
<rect x="68" y="614" width="1" height="10"/>
<rect x="76" y="614" width="1" height="22"/>
<rect x="84" y="614" width="1" height="27"/>
<rect x="92" y="614" width="1" height="32"/>
<rect x="100" y="614" width="1" height="33"/>
<rect x="108" y="614" width="1" height="31"/>
<rect x="116" y="614" width="1" height="25"/>
<rect x="124" y="614" width="1" height="23"/>
<rect x="132" y="614" width="1" height="19"/>
<rect x="140" y="614" width="1" height="16"/>
<rect x="148" y="614" width="1" height="12"/>
<rect x="156" y="614" width="1" height="7"/>
<rect x="164" y="611" width="1" height="4"/>
<rect x="172" y="608" width="1" height="7"/>
<rect x="180" y="612" width="1" height="3"/>
<rect x="188" y="614" width="1" height="2"/>
<rect x="196" y="614" width="1" height="3"/>
<rect x="204" y="614" width="1" height="7"/>
<rect x="212" y="614" width="1" height="12"/>
<rect x="220" y="614" width="1" height="18"/>
<rect x="228" y="614" width="1" height="24"/>
<rect x="236" y="614" width="1" height="27"/>
<rect x="244" y="614" width="1" height="31"/>
<rect x="252" y="614" width="1" height="34"/>
<rect x="260" y="614" width="1" height="33"/>
<rect x="268" y="614" width="1" height="32"/>
<rect x="276" y="614" width="1" height="33"/>
<rect x="284" y="614" width="1" height="33"/>
<rect x="292" y="614" width="1" height="29"/>
<rect x="300" y="614" width="1" height="25"/>
<rect x="308" y="614" width="1" height="20"/>
<rect x="316" y="614" width="1" height="18"/>
<rect x="324" y="614" width="1" height="13"/>
<rect x="332" y="614" width="1" height="8"/>
<rect x="340" y="614" width="1" height="4"/>
<rect x="348" y="614" width="1" height="3"/>
<rect x="356" y="614" width="1" height="1"/>
<rect x="364" y="614" width="1" height="5"/>
<rect x="372" y="614" width="1" height="7"/>
<rect x="380" y="614" width="1" height="7"/>
<rect x="388" y="614" width="1" height="10"/>
<rect x="396" y="614" width="1" height="19"/>
<rect x="404" y="614" width="1" height="27"/>
<rect x="412" y="614" width="1" height="31"/>
<rect x="420" y="614" width="1" height="35"/>
<rect x="428" y="614" width="1" height="34"/>
<rect x="436" y="614" width="1" height="30"/>
<rect x="444" y="614" width="1" height="28"/>
<rect x="452" y="614" width="1" height="29"/>
<rect x="460" y="614" width="1" height="27"/>
<rect x="468" y="614" width="1" height="26"/>
<rect x="476" y="614" width="1" height="24"/>
<rect x="484" y="614" width="1" height="23"/>
<rect x="492" y="614" width="1" height="21"/>
<rect x="500" y="614" width="1" height="18"/>
<rect x="508" y="614" width="1" height="14"/>
<rect x="516" y="614" width="1" height="10"/>
<rect x="524" y="614" width="1" height="7"/>
<rect x="532" y="614" width="1" height="8"/>
<rect x="540" y="614" width="1" height="7"/>
<rect x="548" y="614" width="1" height="10"/>
<rect x="556" y="614" width="1" height="14"/>
<rect x="564" y="614" width="1" height="15"/>
<rect x="572" y="614" width="1" height="17"/>
<rect x="580" y="614" width="1" height="18"/>
<rect x="588" y="614" width="1" height="19"/>
<rect x="596" y="614" width="1" height="17"/>
<rect x="604" y="614" width="1" height="14"/>
<rect x="612" y="614" width="1" height="11"/>
<rect x="620" y="614" width="1" height="10"/>
<rect x="628" y="614" width="1" height="11"/>
<rect x="636" y="614" width="1" height="15"/>
<rect x="644" y="614" width="1" height="18"/>
<rect x="652" y="614" width="1" height="17"/>
<rect x="660" y="614" width="1" height="15"/>
<rect x="668" y="614" width="1" height="8"/>
<rect x="676" y="614" width="1" height="1"/>
<rect x="684" y="611" width="1" height="4"/>
<rect x="692" y="604" width="1" height="11"/>
<rect x="700" y="594" width="1" height="21"/>
<rect x="708" y="588" width="1" height="27"/>
<rect x="716" y="582" width="1" height="33"/>
<rect x="724" y="578" width="1" height="37"/>
<rect x="732" y="579" width="1" height="36"/>
<rect x="740" y="581" width="1" height="34"/>
<rect x="748" y="589" width="1" height="26"/>
<rect x="756" y="595" width="1" height="20"/>
<rect x="764" y="599" width="1" height="16"/>
<rect x="772" y="605" width="1" height="10"/>
<rect x="780" y="606" width="1" height="9"/>
<rect x="788" y="602" width="1" height="13"/>
<rect x="796" y="593" width="1" height="22"/>
<rect x="804" y="584" width="1" height="31"/>
<rect x="812" y="577" width="1" height="38"/>
<rect x="820" y="574" width="1" height="41"/>
<rect x="828" y="571" width="1" height="44"/>
<rect x="836" y="570" width="1" height="45"/>
<rect x="844" y="570" width="1" height="45"/>
<rect x="852" y="571" width="1" height="44"/>
<rect x="860" y="579" width="1" height="36"/>
<rect x="868" y="585" width="1" height="30"/>
<rect x="876" y="591" width="1" height="24"/>
<rect x="884" y="595" width="1" height="20"/>
<rect x="892" y="605" width="1" height="10"/>
<rect x="900" y="612" width="1" height="3"/>
<rect x="908" y="614" width="1" height="5"/>
<rect x="916" y="614" width="1" height="12"/>
<rect x="924" y="614" width="1" height="11"/>
<rect x="932" y="614" width="1" height="12"/>
<rect x="940" y="614" width="1" height="10"/>
<rect x="948" y="614" width="1" height="9"/>
<rect x="956" y="614" width="1" height="9"/>
<rect x="964" y="614" width="1" height="13"/>
<rect x="972" y="614" width="1" height="15"/>
<rect x="980" y="614" width="1" height="13"/>
<rect x="988" y="614" width="1" height="15"/>
<rect x="996" y="614" width="1" height="17"/>
<rect x="1004" y="614" width="1" height="19"/>
<rect x="1012" y="614" width="1" height="25"/>
<rect x="1020" y="614" width="1" height="30"/>
<rect x="1028" y="614" width="1" height="34"/>
<rect x="1036" y="614" width="1" height="38"/>
<rect x="1044" y="614" width="1" height="41"/>
<rect x="1052" y="614" width="1" height="41"/>
<rect x="1060" y="614" width="1" height="39"/>
<rect x="1068" y="614" width="1" height="45"/>
<rect x="1076" y="614" width="1" height="49"/>
<rect x="1084" y="614" width="1" height="48"/>
<rect x="1092" y="614" width="1" height="47"/>
<rect x="1100" y="614" width="1" height="35"/>
<rect x="1108" y="614" width="1" height="27"/>
<rect x="1116" y="614" width="1" height="21"/>
</g>
<g clip-path="url(#cp)"><polyline points="4.5,642.4 12.5,639.0 20.5,636.0 28.5,632.0 36.5,628.0 44.5,624.5 52.5,622.5 60.5,621.5 68.5,620.0 76.5,620.7 84.5,622.7 92.5,625.6 100.5,628.8 108.5,631.8 116.5,634.4 124.5,636.5 132.5,637.7 140.5,638.4 148.5,637.3 156.5,635.0 164.5,631.3 172.5,627.0 180.5,623.4 188.5,620.9 196.5,618.7 204.5,617.4 212.5,617.0 220.5,617.7 228.5,619.6 236.5,622.8 244.5,626.9 252.5,630.8 260.5,634.2 268.5,637.4 276.5,640.3 284.5,642.5 292.5,643.7 300.5,643.8 308.5,643.0 316.5,641.6 324.5,639.2 332.5,636.5 340.5,633.4 348.5,630.0 356.5,626.5 364.5,623.8 372.5,621.8 380.5,620.3 388.5,619.4 396.5,620.1 404.5,622.1 412.5,625.1 420.5,628.6 428.5,632.3 436.5,635.0 444.5,637.4 452.5,639.8 460.5,641.7 468.5,642.6 476.5,642.3 484.5,641.4 492.5,639.9 500.5,638.1 508.5,636.3 516.5,634.3 524.5,631.9 532.5,629.7 540.5,627.6 548.5,626.1 556.5,625.1 564.5,624.4 572.5,624.3 580.5,624.8 588.5,625.8 596.5,626.9 604.5,627.6 612.5,627.9 620.5,627.9 628.5,627.7 636.5,627.6 644.5,627.8 652.5,627.7 660.5,627.2 668.5,626.2 676.5,624.8 684.5,623.3 692.5,621.2 700.5,617.9 708.5,613.4 716.5,608.0 724.5,602.3 732.5,596.8 740.5,592.4 748.5,589.6 756.5,587.8 764.5,587.3 772.5,588.5 780.5,590.5 788.5,592.7 796.5,594.3 804.5,594.9 812.5,594.4 820.5,592.7 828.5,590.1 836.5,586.9 844.5,583.0 852.5,579.1 860.5,576.5 868.5,575.6 876.5,576.3 884.5,578.4 892.5,581.9 900.5,586.4 908.5,591.7 916.5,597.8 924.5,603.8 932.5,608.9 940.5,613.2 948.5,616.7 956.5,619.7 964.5,622.1 972.5,623.8 980.5,624.6 988.5,625.0 996.5,625.6 1004.5,626.3 1012.5,627.9 1020.5,630.3 1028.5,633.0 1036.5,635.8 1044.5,638.7 1052.5,641.8 1060.5,644.5 1068.5,647.7 1076.5,651.0 1084.5,653.6 1092.5,655.4 1100.5,655.5 1108.5,654.3 1116.5,652.1" fill="none" stroke="#ff0000" stroke-width="1" shape-rendering="crispEdges" stroke-dasharray="3,3"/></g>
<text x="8.2" y="577" font-size="9.3" fill="#000" stroke="#000" stroke-width="0" transform="matrix(1 0 0 1.07 0 -40.39)" textLength="153.7" lengthAdjust="spacingAndGlyphs" >MACD(12,26,9) -0.001826 -0.003507</text>
<rect x="1419" y="571" width="3" height="1" fill="#000" shape-rendering="crispEdges"/>
<text x="1423" y="575.3" font-size="9.3" fill="#000" stroke="#000" stroke-width="0" transform="matrix(1 0 0 1.07 0 -40.27)" textLength="38.25" lengthAdjust="spacingAndGlyphs" >0.004517</text>
<rect x="1419" y="614" width="3" height="1" fill="#000" shape-rendering="crispEdges"/>
<text x="1423" y="618.3" font-size="9.3" fill="#000" stroke="#000" stroke-width="0" transform="matrix(1 0 0 1.07 0 -43.28)" textLength="17.75" lengthAdjust="spacingAndGlyphs" >0.00</text>
<rect x="1419" y="660" width="3" height="1" fill="#000" shape-rendering="crispEdges"/>
<text x="1423" y="664.3" font-size="9.3" fill="#000" stroke="#000" stroke-width="0" transform="matrix(1 0 0 1.07 0 -46.50)" >-0.004806</text>
<g shape-rendering="crispEdges">
<line x1="4" y1="709.5" x2="1419" y2="709.5" stroke="#c0c0c0" stroke-dasharray="3,3"/>
<line x1="4" y1="760.5" x2="1419" y2="760.5" stroke="#c0c0c0" stroke-dasharray="3,3"/>
</g>
<g clip-path="url(#cr)"><polyline points="4.5,731.8 12.5,726.2 20.5,729.7 28.5,731.4 36.5,735.0 44.5,731.1 52.5,739.9 60.5,745.8 68.5,743.8 76.5,760.4 84.5,750.2 92.5,751.7 100.5,745.9 108.5,740.6 116.5,732.9 124.5,737.0 132.5,734.6 140.5,734.6 148.5,731.5 156.5,728.3 164.5,718.9 172.5,727.7 180.5,740.3 188.5,740.2 196.5,736.6 204.5,742.9 212.5,745.8 220.5,748.6 228.5,750.7 236.5,748.7 244.5,751.2 252.5,751.6 260.5,742.1 268.5,745.1 276.5,746.4 284.5,746.4 292.5,737.7 300.5,735.5 308.5,733.3 316.5,736.9 324.5,729.2 332.5,728.0 340.5,727.5 348.5,732.3 356.5,729.8 364.5,744.7 372.5,740.9 380.5,737.6 388.5,744.6 396.5,755.1 404.5,757.2 412.5,752.4 420.5,753.3 428.5,744.4 436.5,738.0 444.5,740.5 452.5,745.7 460.5,740.7 468.5,742.5 476.5,738.6 484.5,741.0 492.5,738.8 500.5,734.2 508.5,731.3 516.5,730.3 524.5,731.5 532.5,738.8 540.5,737.5 548.5,745.3 556.5,748.2 564.5,746.1 572.5,745.3 580.5,746.3 588.5,748.4 596.5,738.5 604.5,731.6 612.5,732.4 620.5,738.2 628.5,743.1 636.5,750.1 644.5,751.7 652.5,738.2 660.5,738.2 668.5,721.9 676.5,720.4 684.5,727.2 692.5,718.8 700.5,710.3 708.5,715.4 716.5,714.0 724.5,714.0 732.5,723.7 740.5,726.7 748.5,740.9 756.5,739.1 764.5,737.3 772.5,742.3 780.5,734.6 788.5,724.8 796.5,715.5 804.5,713.8 812.5,712.3 820.5,719.1 828.5,718.3 836.5,719.0 844.5,718.1 852.5,722.4 860.5,736.9 868.5,736.3 876.5,737.0 884.5,736.9 892.5,748.3 900.5,747.1 908.5,748.9 916.5,750.6 924.5,738.1 932.5,739.8 940.5,735.0 948.5,735.5 956.5,737.7 964.5,746.8 972.5,742.8 980.5,735.3 988.5,743.2 996.5,743.5 1004.5,745.8 1012.5,754.1 1020.5,755.2 1028.5,754.3 1036.5,757.3 1044.5,755.7 1052.5,751.9 1060.5,747.7 1068.5,760.5 1076.5,758.4 1084.5,750.0 1092.5,750.6 1100.5,725.4 1108.5,731.7 1116.5,730.7" fill="none" stroke="#1e90ff" stroke-width="1" shape-rendering="crispEdges" /></g>
<text x="8.25" y="682" font-size="9.3" fill="#000" stroke="#000" stroke-width="0" transform="matrix(1 0 0 1.07 0 -47.74)" textLength="67.5" lengthAdjust="spacingAndGlyphs" >RSI(14) 53.2900</text>
<rect x="1419" y="676" width="3" height="1" fill="#000" shape-rendering="crispEdges"/>
<text x="1423.25" y="680.3" font-size="9.3" fill="#000" stroke="#000" stroke-width="0" transform="matrix(1 0 0 1.07 0 -47.62)" >100</text>
<rect x="1419" y="709" width="3" height="1" fill="#000" shape-rendering="crispEdges"/>
<text x="1422.5" y="713.3" font-size="9.3" fill="#000" stroke="#000" stroke-width="0" transform="matrix(1 0 0 1.07 0 -49.93)" >70</text>
<rect x="1419" y="760" width="3" height="1" fill="#000" shape-rendering="crispEdges"/>
<text x="1422.3" y="764.3" font-size="9.3" fill="#000" stroke="#000" stroke-width="0" transform="matrix(1 0 0 1.07 0 -53.50)" >30</text>
<rect x="1419" y="792" width="3" height="1" fill="#000" shape-rendering="crispEdges"/>
<text x="1423" y="796.3" font-size="9.3" fill="#000" stroke="#000" stroke-width="0" transform="matrix(1 0 0 1.07 0 -55.74)" >0</text>
<rect x="4" y="800" width="1" height="3" fill="#000" shape-rendering="crispEdges"/>
<text x="3.3" y="811.8" font-size="9.3" fill="#000" stroke="#000" stroke-width="0" transform="matrix(1 0 0 1.07 0 -56.83)" >25 Feb 2019</text>
<rect x="68" y="800" width="1" height="3" fill="#000" shape-rendering="crispEdges"/>
<text x="67.3" y="811.8" font-size="9.3" fill="#000" stroke="#000" stroke-width="0" transform="matrix(1 0 0 1.07 0 -56.83)" >6 Mar 2019</text>
<rect x="132" y="800" width="1" height="3" fill="#000" shape-rendering="crispEdges"/>
<text x="131.3" y="811.8" font-size="9.3" fill="#000" stroke="#000" stroke-width="0" transform="matrix(1 0 0 1.07 0 -56.83)" >15 Mar 2019</text>
<rect x="196" y="800" width="1" height="3" fill="#000" shape-rendering="crispEdges"/>
<text x="195.3" y="811.8" font-size="9.3" fill="#000" stroke="#000" stroke-width="0" transform="matrix(1 0 0 1.07 0 -56.83)" >25 Mar 2019</text>
<rect x="260" y="800" width="1" height="3" fill="#000" shape-rendering="crispEdges"/>
<text x="259.3" y="811.8" font-size="9.3" fill="#000" stroke="#000" stroke-width="0" transform="matrix(1 0 0 1.07 0 -56.83)" >3 Apr 2019</text>
<rect x="324" y="800" width="1" height="3" fill="#000" shape-rendering="crispEdges"/>
<text x="323.3" y="811.8" font-size="9.3" fill="#000" stroke="#000" stroke-width="0" transform="matrix(1 0 0 1.07 0 -56.83)" >12 Apr 2019</text>
<rect x="388" y="800" width="1" height="3" fill="#000" shape-rendering="crispEdges"/>
<text x="387.3" y="811.8" font-size="9.3" fill="#000" stroke="#000" stroke-width="0" transform="matrix(1 0 0 1.07 0 -56.83)" >23 Apr 2019</text>
<rect x="452" y="800" width="1" height="3" fill="#000" shape-rendering="crispEdges"/>
<text x="451.3" y="811.8" font-size="9.3" fill="#000" stroke="#000" stroke-width="0" transform="matrix(1 0 0 1.07 0 -56.83)" >2 May 2019</text>
<rect x="516" y="800" width="1" height="3" fill="#000" shape-rendering="crispEdges"/>
<text x="515.3" y="811.8" font-size="9.3" fill="#000" stroke="#000" stroke-width="0" transform="matrix(1 0 0 1.07 0 -56.83)" >12 May 2019</text>
<rect x="580" y="800" width="1" height="3" fill="#000" shape-rendering="crispEdges"/>
<text x="579.3" y="811.8" font-size="9.3" fill="#000" stroke="#000" stroke-width="0" transform="matrix(1 0 0 1.07 0 -56.83)" >21 May 2019</text>
<rect x="644" y="800" width="1" height="3" fill="#000" shape-rendering="crispEdges"/>
<text x="643.3" y="811.8" font-size="9.3" fill="#000" stroke="#000" stroke-width="0" transform="matrix(1 0 0 1.07 0 -56.83)" >30 May 2019</text>
<rect x="708" y="800" width="1" height="3" fill="#000" shape-rendering="crispEdges"/>
<text x="707.3" y="811.8" font-size="9.3" fill="#000" stroke="#000" stroke-width="0" transform="matrix(1 0 0 1.07 0 -56.83)" >9 Jun 2019</text>
<rect x="772" y="800" width="1" height="3" fill="#000" shape-rendering="crispEdges"/>
<text x="771.3" y="811.8" font-size="9.3" fill="#000" stroke="#000" stroke-width="0" transform="matrix(1 0 0 1.07 0 -56.83)" >18 Jun 2019</text>
<rect x="836" y="800" width="1" height="3" fill="#000" shape-rendering="crispEdges"/>
<text x="835.3" y="811.8" font-size="9.3" fill="#000" stroke="#000" stroke-width="0" transform="matrix(1 0 0 1.07 0 -56.83)" >27 Jun 2019</text>
<rect x="900" y="800" width="1" height="3" fill="#000" shape-rendering="crispEdges"/>
<text x="899.3" y="811.8" font-size="9.3" fill="#000" stroke="#000" stroke-width="0" transform="matrix(1 0 0 1.07 0 -56.83)" >7 Jul 2019</text>
<rect x="964" y="800" width="1" height="3" fill="#000" shape-rendering="crispEdges"/>
<text x="963.3" y="811.8" font-size="9.3" fill="#000" stroke="#000" stroke-width="0" transform="matrix(1 0 0 1.07 0 -56.83)" >16 Jul 2019</text>
<rect x="1028" y="800" width="1" height="3" fill="#000" shape-rendering="crispEdges"/>
<text x="1027.3" y="811.8" font-size="9.3" fill="#000" stroke="#000" stroke-width="0" transform="matrix(1 0 0 1.07 0 -56.83)" >25 Jul 2019</text>
<rect x="1092" y="800" width="1" height="3" fill="#000" shape-rendering="crispEdges"/>
<text x="1091.3" y="811.8" font-size="9.3" fill="#000" stroke="#000" stroke-width="0" transform="matrix(1 0 0 1.07 0 -56.83)" >4 Aug 2019</text>
<g shape-rendering="crispEdges">
<rect x="0" y="820" width="1464" height="1" fill="#e3e3e3"/>
<rect x="0" y="821" width="1464" height="23" fill="#f0f0f0"/>
<rect x="0" y="841" width="1464" height="1" fill="#ffffff"/>
<rect x="0" y="822" width="1464" height="1" fill="#000"/>
<rect x="0" y="823" width="1464" height="1" fill="#ffffff"/>
<rect x="0" y="821" width="1" height="20" fill="#808080"/>
<rect x="5" y="822" width="108" height="19" fill="#000"/><rect x="6" y="822" width="106" height="18" fill="#fff"/>
<rect x="221" y="826" width="1" height="12" fill="#808080"/>
<rect x="329" y="826" width="1" height="12" fill="#808080"/>
<rect x="437" y="826" width="1" height="12" fill="#808080"/>
<rect x="549" y="826" width="1" height="12" fill="#808080"/>
<rect x="670" y="826" width="1" height="12" fill="#808080"/>
<rect x="793" y="826" width="1" height="12" fill="#808080"/>
<rect x="889" y="826" width="1" height="12" fill="#808080"/>
<rect x="970" y="826" width="1" height="12" fill="#808080"/>
<rect x="1074" y="826" width="1" height="12" fill="#808080"/>
</g>
<text x="16.4" y="836.5" font-size="12" fill="#000" textLength="84.4" lengthAdjust="spacingAndGlyphs" >EURUSD-,Daily</text>
<text x="123.3" y="836.5" font-size="12" fill="#6d6d6d" textLength="86.5" lengthAdjust="spacingAndGlyphs" >AUDUSD-,Daily</text>
<text x="233" y="836.5" font-size="12" fill="#6d6d6d" textLength="84.4" lengthAdjust="spacingAndGlyphs" >USDCHF-,Daily</text>
<text x="340" y="836.5" font-size="12" fill="#6d6d6d" textLength="86" lengthAdjust="spacingAndGlyphs" >USDCAD-,Daily</text>
<text x="449" y="836.5" font-size="12" fill="#6d6d6d" textLength="88" lengthAdjust="spacingAndGlyphs" >USDCNH-,Daily</text>
<text x="560" y="836.5" font-size="12" fill="#6d6d6d" textLength="97" lengthAdjust="spacingAndGlyphs" >EURCHF-,Weekly</text>
<text x="681" y="836.5" font-size="12" fill="#6d6d6d" textLength="100" lengthAdjust="spacingAndGlyphs" >XAUUSD-,Weekly</text>
<text x="804.3" y="836.5" font-size="12" fill="#6d6d6d" textLength="72.1" lengthAdjust="spacingAndGlyphs" >GBPUSD-,H1</text>
<text x="900.5" y="836.5" font-size="12" fill="#6d6d6d" textLength="56.5" lengthAdjust="spacingAndGlyphs" >UKOil-,H1</text>
<text x="979" y="836.5" font-size="12" fill="#6d6d6d" textLength="83" lengthAdjust="spacingAndGlyphs" >USDX-,Weekly</text>
<path d="M1440 829L1436 832L1440 835Z" fill="#a0a0a0"/><path d="M1454 829L1458 832L1454 835Z" fill="#a0a0a0"/>
</svg></body></html>
